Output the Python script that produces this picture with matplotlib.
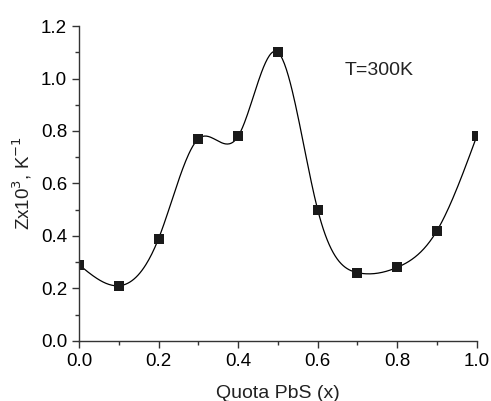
import matplotlib
matplotlib.use("Agg")
import matplotlib.pyplot as plt
import numpy as np
from matplotlib.ticker import MultipleLocator

plt.rcParams['font.family'] = ['Liberation Sans', 'DejaVu Sans']

quota = [0.0, 0.1, 0.2, 0.3, 0.4, 0.5, 0.6, 0.7, 0.8, 0.9, 1.0]
z = [0.29, 0.21, 0.39, 0.77, 0.78, 1.10, 0.50, 0.26, 0.28, 0.42, 0.78]


def natural_spline(x, y, xs):
    # plain natural cubic spline, no scipy around
    x = np.asarray(x, float)
    y = np.asarray(y, float)
    n = len(x)
    h = np.diff(x)
    A = np.zeros((n, n))
    b = np.zeros(n)
    A[0, 0] = A[-1, -1] = 1
    for i in range(1, n - 1):
        A[i, i - 1] = h[i - 1]
        A[i, i] = 2 * (h[i - 1] + h[i])
        A[i, i + 1] = h[i]
        b[i] = 3 * ((y[i + 1] - y[i]) / h[i] - (y[i] - y[i - 1]) / h[i - 1])
    c = np.linalg.solve(A, b)
    out = np.empty_like(xs)
    for k, t in enumerate(xs):
        i = min(max(np.searchsorted(x, t) - 1, 0), n - 2)
        d = t - x[i]
        bi = (y[i + 1] - y[i]) / h[i] - h[i] * (2 * c[i] + c[i + 1]) / 3
        di = (c[i + 1] - c[i]) / (3 * h[i])
        out[k] = y[i] + bi * d + c[i] * d ** 2 + di * d ** 3
    return out


fig = plt.figure(figsize=(4.91, 4.01), dpi=100)
ax = fig.add_axes([0.161, 0.150, 0.810, 0.785])

xs = np.linspace(0, 1, 400)
ax.plot(xs, natural_spline(quota, z, xs), color='black', lw=0.9)
ax.plot(quota, z, 's', color='#1a1a1a', ms=6.5, mew=0)

ax.set_xlim(0, 1.0)
ax.set_ylim(0, 1.2)
ax.xaxis.set_major_locator(MultipleLocator(0.2))
ax.xaxis.set_minor_locator(MultipleLocator(0.1))
ax.yaxis.set_major_locator(MultipleLocator(0.2))
ax.yaxis.set_minor_locator(MultipleLocator(0.1))
ax.xaxis.set_major_formatter(plt.FormatStrFormatter('%.1f'))
ax.yaxis.set_major_formatter(plt.FormatStrFormatter('%.1f'))

for s in ['top', 'right']:
    ax.spines[s].set_visible(False)
for s in ['left', 'bottom']:
    ax.spines[s].set_linewidth(1.0)
    ax.spines[s].set_color('#333333')

ax.tick_params(which='major', direction='out', length=5, width=1, labelsize=13.5, color='#333333')
ax.tick_params(which='minor', direction='out', length=3, width=1, color='#333333')

ax.set_xlabel('Quota PbS (x)', fontsize=14, labelpad=11, color='#222222')
ax.set_ylabel('Zx10$^3$, K$^{-1}$', fontsize=13.5, labelpad=5, color='#222222')
ax.text(0.668, 1.03, 'T=300K', fontsize=14, va='center', color='#222222')

fig.savefig('out.png', dpi=100)
